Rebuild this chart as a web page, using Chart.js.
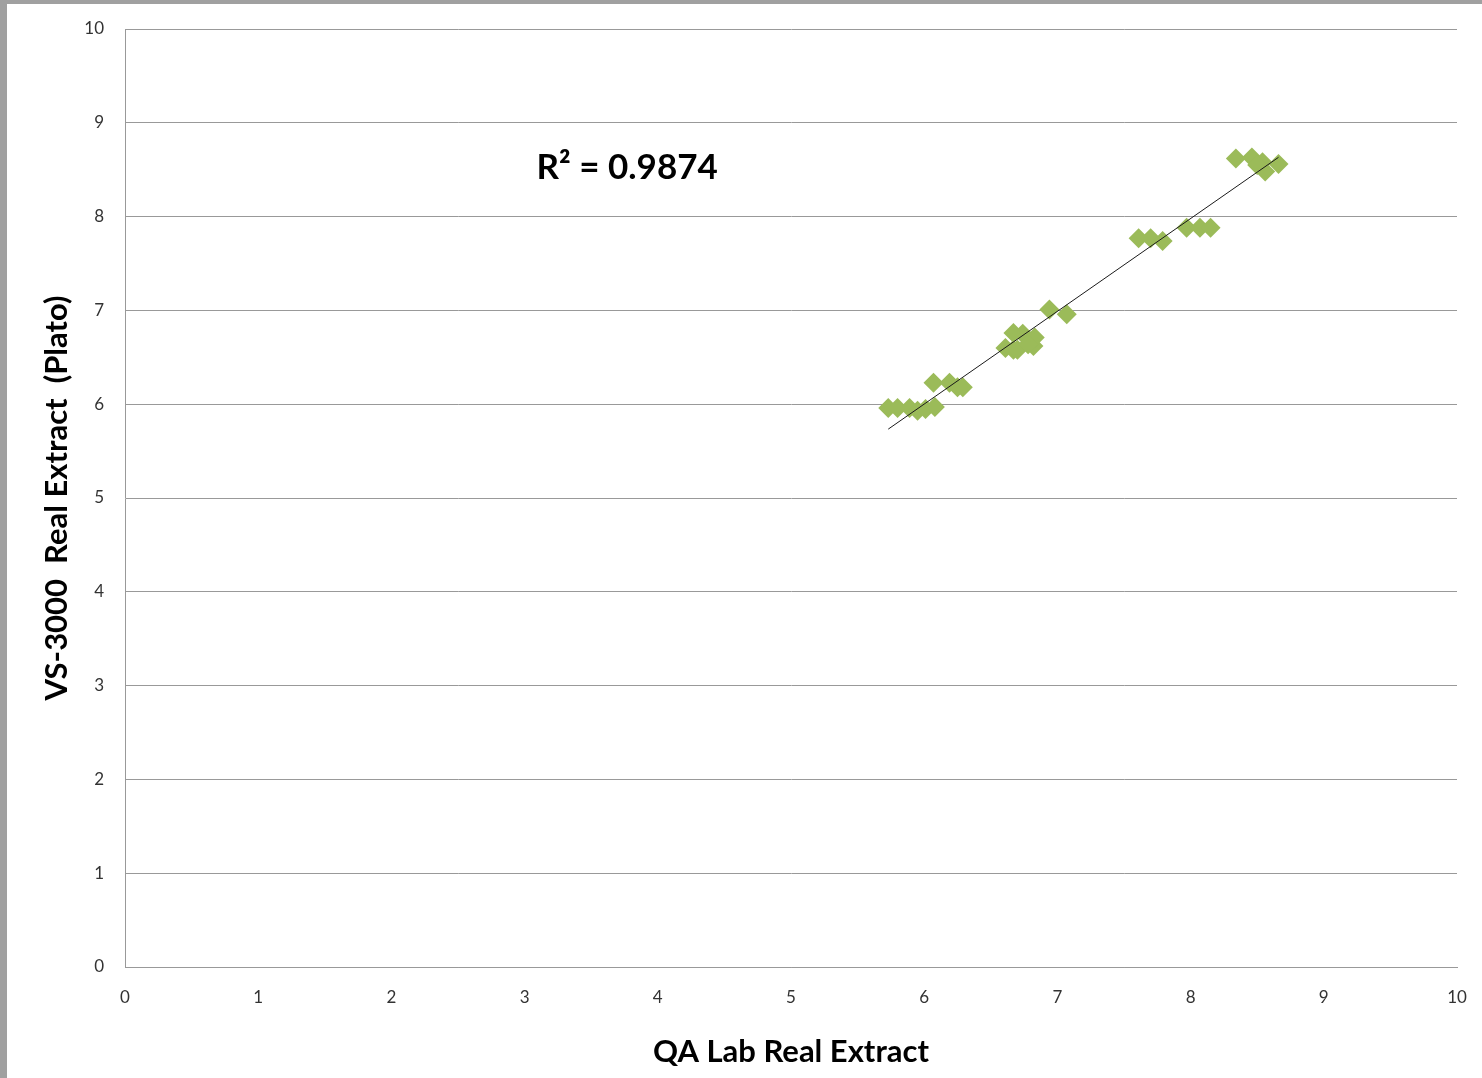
<!DOCTYPE html>
<html>
<head>
<meta charset="utf-8">
<script src="https://cdn.jsdelivr.net/npm/chart.js@4.4.0/dist/chart.umd.min.js"></script>
<style>
    html, body { margin: 0; padding: 0; background: #a0a0a0; }
    #frame {
        position: absolute; left: 7px; top: 4px;
        width: 1475px; height: 1074px; background: #fff;
    }
</style>
</head>
<body>
<div id="frame"><canvas id="grafico" width="1475" height="1074"></canvas></div>
<script>
// Lecturas: QA Lab vs VS-3000
var qaLab = [5.73, 5.80, 5.89, 5.95, 6.01, 6.08,
             6.07, 6.19, 6.25, 6.29,
             6.61, 6.67, 6.70, 6.82, 6.67, 6.74, 6.83, 6.78,
             6.94, 7.07,
             7.61, 7.70, 7.79, 7.97, 8.07, 8.15,
             8.34, 8.46, 8.54, 8.56, 8.66, 8.50];
var vs3000 = [5.96, 5.96, 5.96, 5.93, 5.95, 5.97,
              6.23, 6.23, 6.18, 6.18,
              6.60, 6.58, 6.58, 6.62, 6.76, 6.75, 6.71, 6.64,
              7.01, 6.96,
              7.77, 7.77, 7.74, 7.88, 7.88, 7.88,
              8.62, 8.63, 8.58, 8.48, 8.56, 8.55];
var r2Label = 'R² = 0.9874';
var r2Pos = [3.77, 8.52];

// puntos para el gráfico
var puntos = qaLab.map(function(x, i) { return { x: x, y: vs3000[i] }; });

// línea de tendencia (mínimos cuadrados)
var n = qaLab.length, sx = 0, sy = 0, sxx = 0, sxy = 0;
for (var i = 0; i < n; i++) {
    sx += qaLab[i]; sy += vs3000[i];
    sxx += qaLab[i] * qaLab[i]; sxy += qaLab[i] * vs3000[i];
}
var pendiente = (n * sxy - sx * sy) / (n * sxx - sx * sx);
var corte = (sy - pendiente * sx) / n;
var xMin = Math.min.apply(null, qaLab), xMax = Math.max.apply(null, qaLab);
var tendencia = [
    { x: xMin, y: corte + pendiente * xMin },
    { x: xMax, y: corte + pendiente * xMax }
];

var textoR2 = {
    id: 'textoR2',
    afterDatasetsDraw: function(chart) {
        var ctx = chart.ctx;
        ctx.save();
        ctx.font = 'bold 35px Lato';
        ctx.fillStyle = '#000';
        ctx.textAlign = 'center';
        ctx.textBaseline = 'middle';
        ctx.fillText(r2Label, chart.scales.x.getPixelForValue(r2Pos[0]), chart.scales.y.getPixelForValue(r2Pos[1]));
        ctx.restore();
    }
};

var fuenteTicks = { family: 'Lato', size: 17 };
var fuenteTitulo = { family: 'Lato', size: 31, weight: 'bold' };

new Chart(document.getElementById('grafico'), {
    type: 'scatter',
    data: {
        datasets: [
            {
                type: 'line',
                data: tendencia,
                borderColor: '#1a1a1a',
                borderWidth: 1,
                pointRadius: 0,
                fill: false,
                order: 0
            },
            {
                data: puntos,
                pointStyle: 'rectRot',
                pointRadius: 10,
                backgroundColor: '#9BBB59',
                borderColor: '#9BBB59',
                borderWidth: 0,
                order: 1
            }
        ]
    },
    options: {
        responsive: false,
        animation: false,
        layout: { padding: { top: 25, right: 25, left: 0, bottom: 0 } },
        plugins: { legend: { display: false }, tooltip: { enabled: false } },
        scales: {
            x: {
                type: 'linear', min: 0, max: 10,
                ticks: { stepSize: 1, color: '#333', font: fuenteTicks, padding: 12 },
                grid: { display: false },
                border: { display: true, color: '#999', width: 1 },
                title: { display: true, text: 'QA Lab Real Extract', color: '#000', font: fuenteTitulo, padding: { top: 0, bottom: 7 } },
                afterFit: function(s) { s.height = 111; s.paddingLeft = 0; s.paddingRight = 0; }
            },
            y: {
                type: 'linear', min: 0, max: 10,
                ticks: { stepSize: 1, color: '#333', font: fuenteTicks, padding: 21 },
                grid: { color: '#999', lineWidth: 1, drawTicks: false },
                border: { display: true, color: '#999', width: 1 },
                title: { display: true, text: 'VS-3000  Real Extract  (Plato)', color: '#000', font: fuenteTitulo, padding: { top: 31, bottom: 0 } },
                afterFit: function(s) { s.width = 118; s.paddingTop = 0; s.paddingBottom = 0; }
            }
        }
    },
    plugins: [textoR2]
});
</script>
</body>
</html>
